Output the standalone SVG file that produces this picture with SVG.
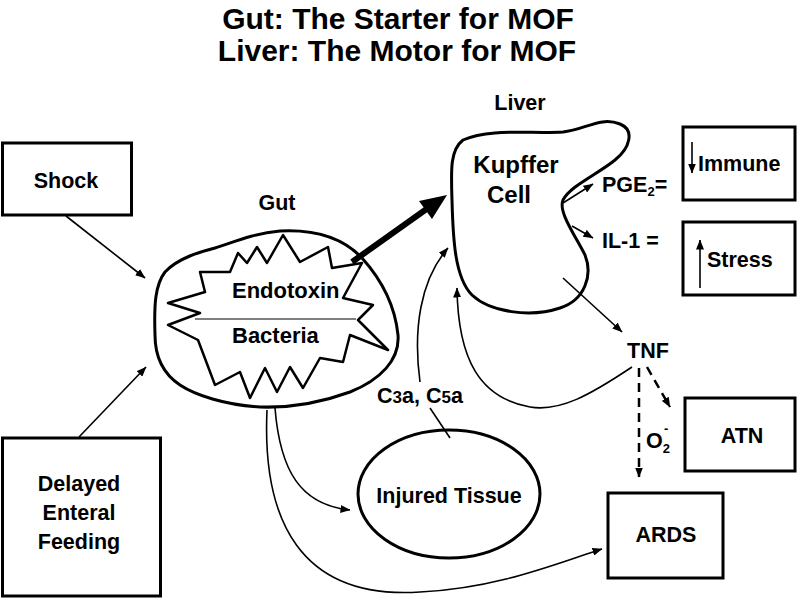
<svg xmlns="http://www.w3.org/2000/svg" width="800" height="600" viewBox="0 0 800 600">
<defs>
<marker id="ah" viewBox="0 0 10 8" refX="9.5" refY="4" markerWidth="10" markerHeight="8" markerUnits="userSpaceOnUse" orient="auto">
<path d="M0,0 L10,4 L0,8 z" fill="#000"/>
</marker>
</defs>
<style>
text{font-family:"Liberation Sans",Arial,sans-serif;font-weight:bold;fill:#000;}
.t{font-size:21.5px;}
.mid{text-anchor:middle;}
.box{fill:#fff;stroke:#000;stroke-width:3;}
.shape{fill:none;stroke:#000;stroke-width:3;stroke-linejoin:round;}
.c{fill:none;stroke:#000;stroke-width:1.6;}
.cm{fill:none;stroke:#000;stroke-width:1.6;marker-end:url(#ah);}
.dash{fill:none;stroke:#000;stroke-width:2.5;stroke-dasharray:9,6;marker-end:url(#ah);}
</style>
<rect width="800" height="600" fill="#fff"/>
<g id="title">
<text x="398" y="29" class="mid" style="font-size:30px">Gut: The Starter for MOF</text>
<text x="397" y="61" class="mid" style="font-size:30px">Liver: The Motor for MOF</text>
</g>
<g id="connectors">
<line x1="66" y1="216" x2="145" y2="278" class="cm"/>
<line x1="79" y1="437" x2="146" y2="367" class="cm"/>
<line x1="352" y1="262" x2="428" y2="208" stroke="#000" stroke-width="6"/>
<polygon points="447,195 432,219 419,201" fill="#000"/>
<line x1="563" y1="203" x2="593" y2="184" class="cm"/>
<line x1="572" y1="226" x2="593" y2="238" class="cm"/>
<line x1="563" y1="278" x2="622" y2="332" class="cm"/>
<path d="M632,367 C590,395 560,412 530,407 C480,398 458,360 457,288" class="cm"/>
<path d="M420,382 C413,330 420,280 448,248" class="cm"/>
<line x1="450" y1="438" x2="430" y2="408" class="c"/>
<path d="M275,408 C280,470 300,505 350,510" class="cm"/>
<path d="M267,410 C262,520 300,600 420,592 C500,588 560,562 602,549" class="cm"/>
<line x1="639" y1="368" x2="639" y2="477" class="dash"/>
<line x1="647" y1="367" x2="670" y2="407" class="dash"/>
</g>
<g id="shock">
<rect x="2.5" y="143" width="129" height="72" class="box"/>
<text x="66" y="188" class="t mid">Shock</text>
</g>
<g id="feeding">
<rect x="2.5" y="438" width="158" height="158" class="box"/>
<text x="79" y="491" class="t mid">Delayed</text>
<text x="79" y="520" class="t mid">Enteral</text>
<text x="79" y="549" class="t mid">Feeding</text>
</g>
<g id="gut">
<text x="277" y="210" class="t mid">Gut</text>
<path d="M280,231 C320,229 345,240 362,258 C380,278 395,305 398,335 C400,360 380,380 350,392 C320,403 290,408 260,407 C225,405 195,395 180,385 C162,373 155,355 155,335 C154,305 155,285 165,272 C178,258 200,252 215,248 C232,243 250,234 280,231 Z" class="shape"/>
<polygon points="230,272 238,253 247,263 257,247 267,263 283,235 300,262 328,247 332,268 362,263 343,298 373,305 358,320 388,350 350,335 343,362 320,358 303,388 290,367 277,392 265,368 250,398 240,372 215,385 198,340 168,325 200,313 168,303 205,292 200,272" fill="none" stroke="#000" stroke-width="2.5" stroke-linejoin="round"/>
<line x1="195" y1="319" x2="356" y2="319" stroke="#555" stroke-width="1.5"/>
<text x="232" y="298" style="font-size:22px">Endotoxin</text>
<text x="232" y="343" style="font-size:22px">Bacteria</text>
</g>
<g id="liver">
<text x="520" y="110" class="t mid">Liver</text>
<path d="M463,140 C490,128 530,134 563,132 C585,130 600,116 620,124 C635,130 630,148 615,160 C598,174 570,186 563,200 C558,212 575,235 585,255 C593,275 585,300 560,308 C530,318 490,312 472,295 C455,278 453,240 452,200 C451,170 450,150 463,140 Z" class="shape"/>
<text x="516" y="173" class="mid" style="font-size:24px">Kupffer</text>
<text x="509" y="203" class="mid" style="font-size:24px">Cell</text>
</g>
<g id="pge2">
<text x="602" y="192" class="t">PGE<tspan dy="4" style="font-size:13px">2</tspan><tspan dy="-4">=</tspan></text>
</g>
<g id="il1">
<text x="602" y="248" class="t">IL-1 =</text>
</g>
<g id="immune">
<rect x="683" y="127" width="112" height="73" class="box"/>
<line x1="692" y1="142" x2="692" y2="173" class="cm"/>
<text x="698" y="171" class="t">Immune</text>
</g>
<g id="stress">
<rect x="683" y="222" width="112" height="73" class="box"/>
<line x1="700" y1="288" x2="700" y2="240" class="cm"/>
<text x="707" y="267" class="t">Stress</text>
</g>
<g id="tnf">
<text x="648" y="358" class="t mid">TNF</text>
</g>
<g id="o2">
<text x="646" y="448" class="t">O<tspan dy="5" style="font-size:13px">2</tspan><tspan dx="-6" dy="-20" style="font-size:13px">-</tspan></text>
</g>
<g id="atn">
<rect x="685" y="398" width="110" height="73" class="box"/>
<text x="742" y="443" class="t mid">ATN</text>
</g>
<g id="ards">
<rect x="608" y="493" width="115" height="85" class="box"/>
<text x="666" y="542" class="t mid">ARDS</text>
</g>
<g id="injured">
<ellipse cx="449" cy="494" rx="91" ry="64" class="shape"/>
<text x="449" y="503" class="t mid">Injured Tissue</text>
</g>
<g id="c3a">
<text x="420" y="403" class="t mid">C<tspan style="font-size:17px">3</tspan>a, C<tspan style="font-size:17px">5</tspan>a</text>
</g>
</svg>
